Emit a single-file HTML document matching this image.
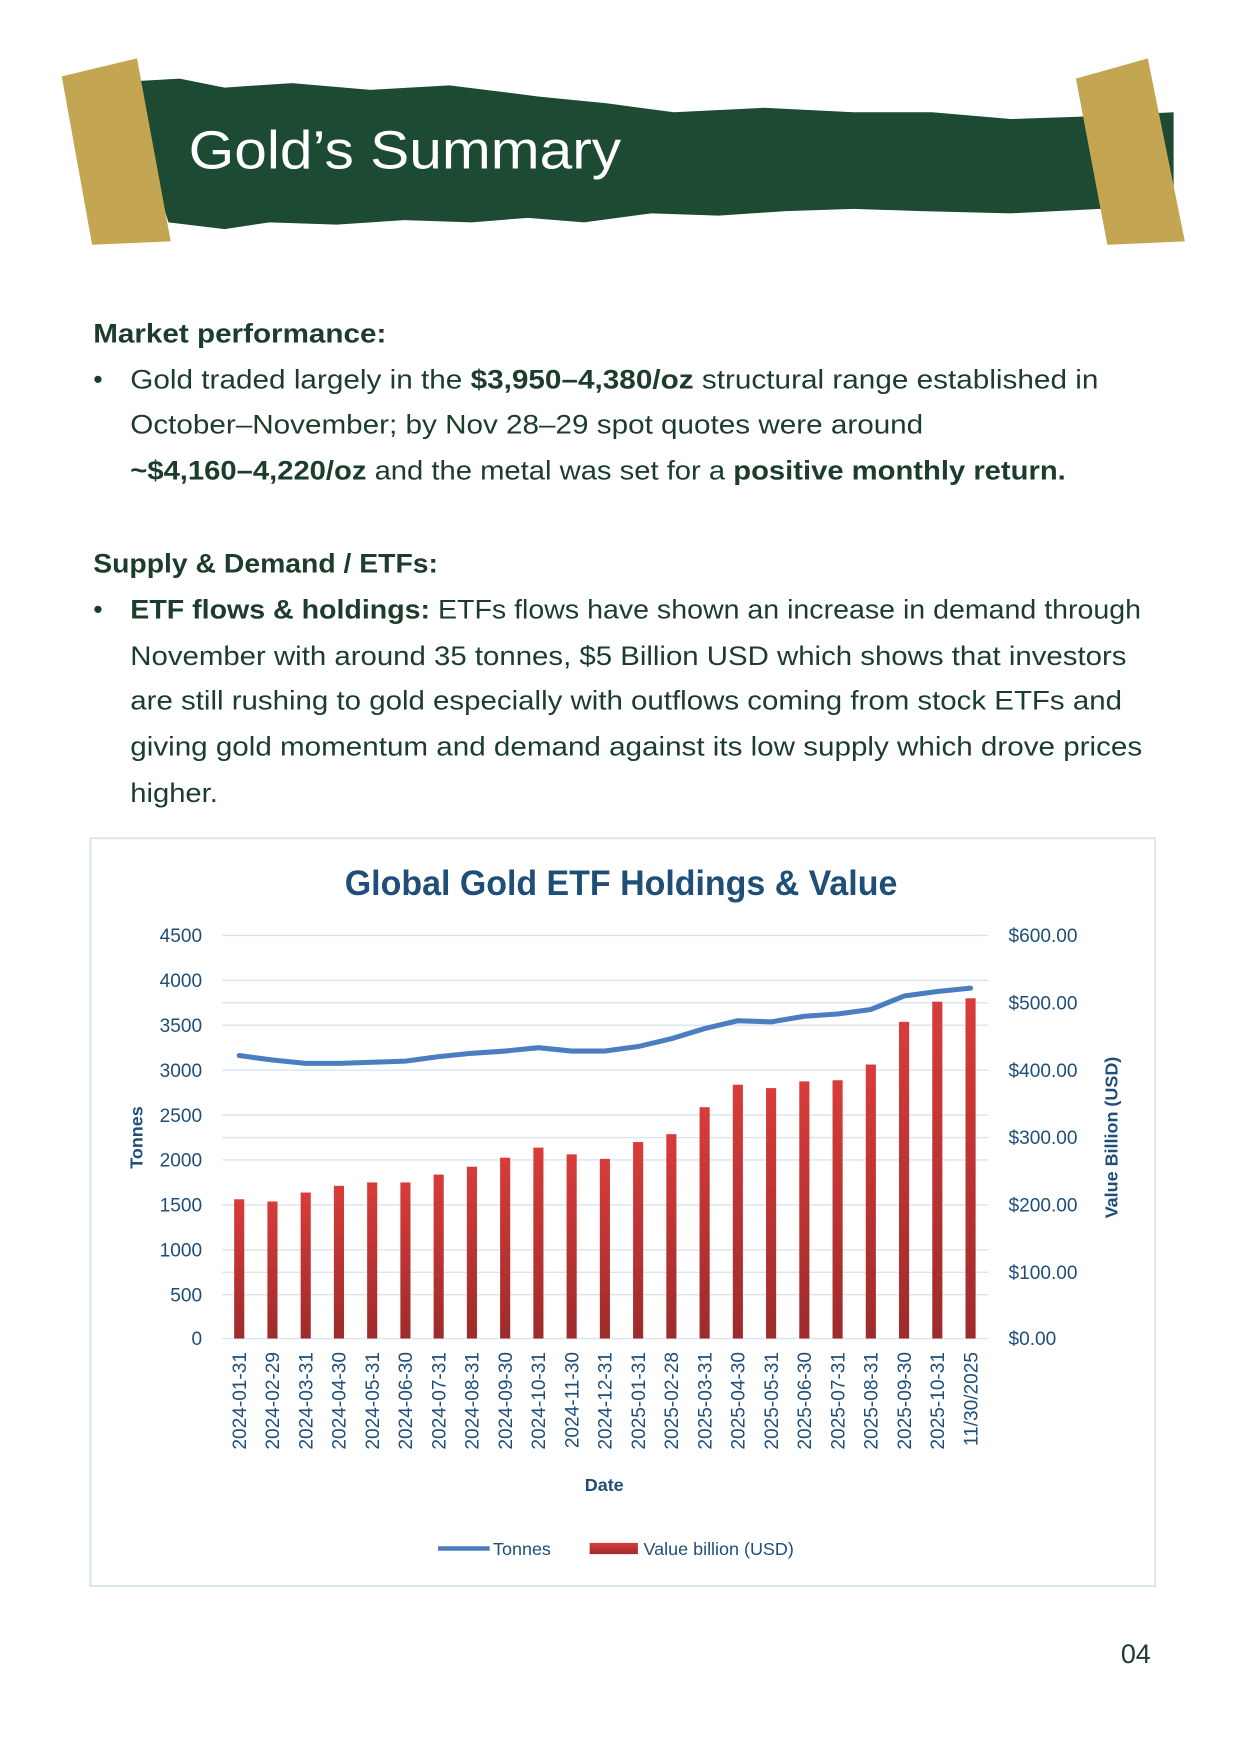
<!DOCTYPE html>
<html><head><meta charset="utf-8"><style>
html,body{margin:0;padding:0;background:#fff;}
svg{display:block;}
text{font-family:"Liberation Sans",sans-serif;}
.b{fill:#1c3d2b;font-size:24px;}
.ax{fill:#1f4e79;font-size:17px;}
.xl{fill:#1f4e79;font-size:17px;}
</style></head><body>
<svg width="1241" height="1754" viewBox="0 0 1105 1562" preserveAspectRatio="none" xmlns="http://www.w3.org/2000/svg">
<defs>
<linearGradient id="rg" x1="0" y1="0" x2="0" y2="1"><stop offset="0" stop-color="#d83c3a"/><stop offset="1" stop-color="#9e2b2b"/></linearGradient>
</defs>
<path d="M125,72 L160,70 L200,78 L260,74 L330,80 L400,76 L480,86 L540,92 L600,100 L680,96 L760,100 L830,100 L900,106 L960,104 L1045,100 L1045,186 L980,186 L900,190 L820,188 L760,186 L700,188 L640,192 L580,190 L520,198 L470,194 L420,198 L360,196 L300,200 L240,198 L200,204 L150,198 L135,150 Z" fill="#1d4a33"/>
<polygon points="55,68 122,52 152,215 82,218" fill="#c4a652"/>
<polygon points="958,70 1022,52 1055,215 986,218" fill="#c4a652"/>
<text x="168" y="150" fill="#fff" font-size="48" textLength="385" lengthAdjust="spacingAndGlyphs">Gold’s Summary</text>
<text class="b" x="83" y="305" font-weight="bold" textLength="261" lengthAdjust="spacingAndGlyphs">Market performance:</text>
<text class="b" x="83" y="346">•</text>
<text class="b" x="116" y="346" textLength="862" lengthAdjust="spacingAndGlyphs">Gold traded largely in the <tspan font-weight="bold">$3,950–4,380/oz</tspan> structural range established in</text>
<text class="b" x="116" y="386" textLength="706" lengthAdjust="spacingAndGlyphs">October–November; by Nov 28–29 spot quotes were around</text>
<text class="b" x="116" y="427" textLength="833" lengthAdjust="spacingAndGlyphs"><tspan font-weight="bold">~$4,160–4,220/oz</tspan> and the metal was set for a <tspan font-weight="bold">positive monthly return.</tspan></text>
<text class="b" x="83" y="510" font-weight="bold" textLength="307" lengthAdjust="spacingAndGlyphs">Supply &amp; Demand / ETFs:</text>
<text class="b" x="83" y="551">•</text>
<text class="b" x="116" y="551" textLength="900" lengthAdjust="spacingAndGlyphs"><tspan font-weight="bold">ETF flows &amp; holdings:</tspan> ETFs flows have shown an increase in demand through</text>
<text class="b" x="116" y="592" textLength="887" lengthAdjust="spacingAndGlyphs">November with around 35 tonnes, $5 Billion USD which shows that investors</text>
<text class="b" x="116" y="632" textLength="883" lengthAdjust="spacingAndGlyphs">are still rushing to gold especially with outflows coming from stock ETFs and</text>
<text class="b" x="116" y="673" textLength="901" lengthAdjust="spacingAndGlyphs">giving gold momentum and demand against its low supply which drove prices</text>
<text class="b" x="116" y="714" textLength="78" lengthAdjust="spacingAndGlyphs">higher.</text>
<rect x="80.5" y="746.5" width="948" height="666" fill="#fff" stroke="#d6e2f0" stroke-width="1.5"/>
<text x="553" y="797" text-anchor="middle" fill="#1f4e79" font-size="31" font-weight="bold" textLength="492" lengthAdjust="spacingAndGlyphs">Global Gold ETF Holdings &amp; Value</text>
<g stroke="#d9e4f2" stroke-width="1.2">
<line x1="198" x2="880" y1="833" y2="833"/><line x1="198" x2="880" y1="873" y2="873"/><line x1="198" x2="880" y1="893" y2="893"/><line x1="198" x2="880" y1="913" y2="913"/><line x1="198" x2="880" y1="953" y2="953"/><line x1="198" x2="880" y1="993" y2="993"/><line x1="198" x2="880" y1="1013" y2="1013"/><line x1="198" x2="880" y1="1033" y2="1033"/><line x1="198" x2="880" y1="1073" y2="1073"/><line x1="198" x2="880" y1="1113" y2="1113"/><line x1="198" x2="880" y1="1133" y2="1133"/><line x1="198" x2="880" y1="1153" y2="1153"/><line x1="198" x2="880" y1="1192" y2="1192"/>
</g>
<g class="ax" text-anchor="end">
<text x="180" y="839">4500</text><text x="180" y="879">4000</text><text x="180" y="919">3500</text><text x="180" y="959">3000</text><text x="180" y="999">2500</text><text x="180" y="1039">2000</text><text x="180" y="1079">1500</text><text x="180" y="1119">1000</text><text x="180" y="1159">500</text><text x="180" y="1198">0</text>
</g>
<g class="ax">
<text x="898" y="839">$600.00</text><text x="898" y="899">$500.00</text><text x="898" y="959">$400.00</text><text x="898" y="1019">$300.00</text><text x="898" y="1079">$200.00</text><text x="898" y="1139">$100.00</text><text x="898" y="1198">$0.00</text>
</g>
<text transform="translate(127,1013) rotate(-90)" text-anchor="middle" fill="#1f4e79" font-size="16" font-weight="bold">Tonnes</text>
<text transform="translate(995,1013) rotate(-90)" text-anchor="middle" fill="#1f4e79" font-size="16" font-weight="bold">Value Billion (USD)</text>
<g fill="url(#rg)">
<rect x="208.5" y="1068" width="9" height="124"/><rect x="238.1" y="1070" width="9" height="122"/><rect x="267.7" y="1062" width="9" height="130"/><rect x="297.3" y="1056" width="9" height="136"/><rect x="326.9" y="1053" width="9" height="139"/><rect x="356.5" y="1053" width="9" height="139"/><rect x="386.1" y="1046" width="9" height="146"/><rect x="415.7" y="1039" width="9" height="153"/><rect x="445.3" y="1031" width="9" height="161"/><rect x="474.9" y="1022" width="9" height="170"/><rect x="504.5" y="1028" width="9" height="164"/><rect x="534.1" y="1032" width="9" height="160"/><rect x="563.7" y="1017" width="9" height="175"/><rect x="593.3" y="1010" width="9" height="182"/><rect x="622.9" y="986" width="9" height="206"/><rect x="652.5" y="966" width="9" height="226"/><rect x="682.1" y="969" width="9" height="223"/><rect x="711.7" y="963" width="9" height="229"/><rect x="741.3" y="962" width="9" height="230"/><rect x="770.9" y="948" width="9" height="244"/><rect x="800.5" y="910" width="9" height="282"/><rect x="830.1" y="892" width="9" height="300"/><rect x="859.7" y="889" width="9" height="303"/>
</g>
<polyline fill="none" stroke="#4a7ebf" stroke-width="4.5" stroke-linejoin="round" stroke-linecap="round" points="213,940 242.6,944 272.2,947 301.8,947 331.4,946 361,945 390.6,941 420.2,938 449.8,936 479.4,933 509,936 538.6,936 568.2,932 597.8,925 627.4,916 657,909 686.6,910 716.2,905 745.8,903 775.4,899 805,887 834.6,883 864.2,880"/>
<g class="xl" text-anchor="end">
<text transform="translate(219,1204) rotate(-90)">2024-01-31</text><text transform="translate(248.6,1204) rotate(-90)">2024-02-29</text><text transform="translate(278.2,1204) rotate(-90)">2024-03-31</text><text transform="translate(307.8,1204) rotate(-90)">2024-04-30</text><text transform="translate(337.4,1204) rotate(-90)">2024-05-31</text><text transform="translate(367,1204) rotate(-90)">2024-06-30</text><text transform="translate(396.6,1204) rotate(-90)">2024-07-31</text><text transform="translate(426.2,1204) rotate(-90)">2024-08-31</text><text transform="translate(455.8,1204) rotate(-90)">2024-09-30</text><text transform="translate(485.4,1204) rotate(-90)">2024-10-31</text><text transform="translate(515,1204) rotate(-90)">2024-11-30</text><text transform="translate(544.6,1204) rotate(-90)">2024-12-31</text><text transform="translate(574.2,1204) rotate(-90)">2025-01-31</text><text transform="translate(603.8,1204) rotate(-90)">2025-02-28</text><text transform="translate(633.4,1204) rotate(-90)">2025-03-31</text><text transform="translate(663,1204) rotate(-90)">2025-04-30</text><text transform="translate(692.6,1204) rotate(-90)">2025-05-31</text><text transform="translate(722.2,1204) rotate(-90)">2025-06-30</text><text transform="translate(751.8,1204) rotate(-90)">2025-07-31</text><text transform="translate(781.4,1204) rotate(-90)">2025-08-31</text><text transform="translate(811,1204) rotate(-90)">2025-09-30</text><text transform="translate(840.6,1204) rotate(-90)">2025-10-31</text><text transform="translate(870.2,1204) rotate(-90)">11/30/2025</text>
</g>
<text x="538" y="1328" text-anchor="middle" fill="#1f4e79" font-size="16" font-weight="bold">Date</text>
<line x1="390" x2="436" y1="1379" y2="1379" stroke="#4a7ebf" stroke-width="4"/>
<text x="439" y="1385" fill="#1f4e79" font-size="16">Tonnes</text>
<rect x="525" y="1374" width="43" height="10" fill="url(#rg)"/>
<text x="573" y="1385" fill="#1f4e79" font-size="16">Value billion (USD)</text>
<text x="998" y="1481" fill="#1c3d2b" font-size="24">04</text>
</svg>
</body></html>
